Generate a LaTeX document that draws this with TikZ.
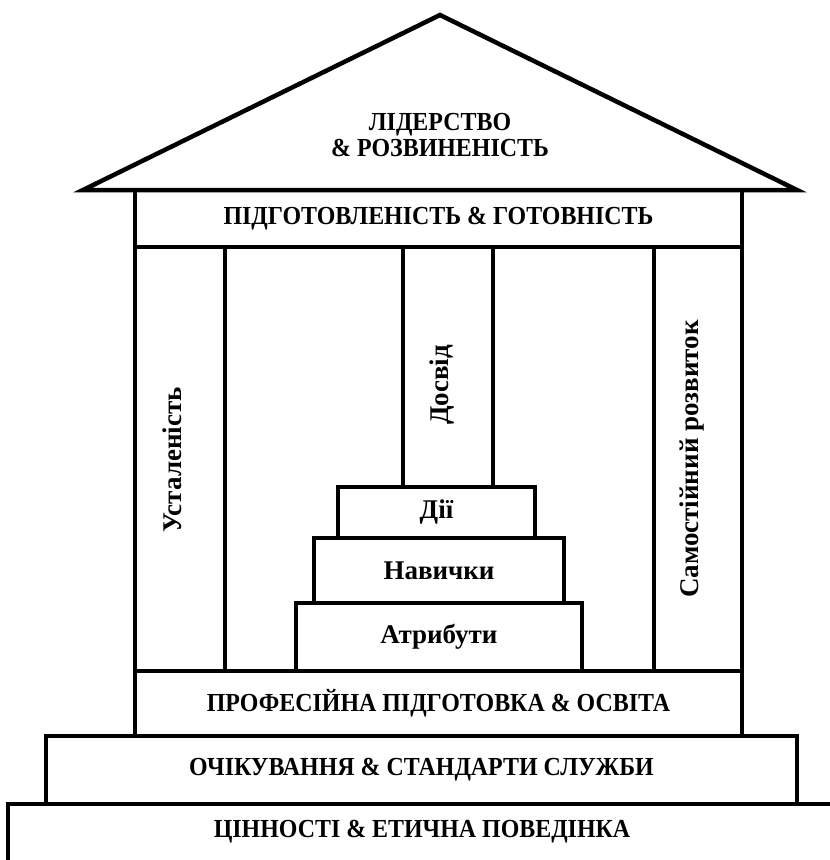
\documentclass[tikz,border=0pt]{standalone}
\usepackage{fontspec}
\setmainfont{Liberation Serif}
% slightly condensed face for the capital captions
\newfontfamily\capsfont[FakeStretch=0.92]{Liberation Serif}
\begin{document}
\begin{tikzpicture}[x=1pt,y=-1pt,
  wall/.style={draw=black,line width=4.5pt,line join=miter},
  block/.style={draw=black,line width=4.5pt,rectangle,inner sep=0pt,
    minimum width=#1},
  caption/.style={font=\capsfont\bfseries\fontsize{26}{26}\selectfont,inner sep=0pt,align=center},
  label/.style={font=\bfseries\fontsize{27}{27}\selectfont,inner sep=0pt},
  vlabel/.style={label,rotate=90}]
\clip (0,0) rectangle (830,860);

% roof
\draw[wall] (83,190) -- (440,15) -- (797,190) -- cycle;
\node[caption] (roofText) at (440,135) {ЛІДЕРСТВО\\\& РОЗВИНЕНІСТЬ};

% beam under the roof
\node[block=607pt,minimum height=57pt,caption] (ready) at (438.5,218.5)
  {ПІДГОТОВЛЕНІСТЬ \& ГОТОВНІСТЬ};

% pillars
\node[block=90pt,minimum height=424pt] (pillarL) at (180,459) {};
\node[block=90pt,minimum height=240pt] (pillarM) at (448,367) {};
\node[block=88pt,minimum height=424pt] (pillarR) at (698,459) {};
\node[vlabel] (lblL) at (172,460) {Усталеність};
\node[vlabel] (lblM) at (442,385) {Досвід};
\node[vlabel] (lblR) at (692,459) {Самостійний розвиток};

% stepped blocks
\node[block=197pt,minimum height=51pt,label] (stepA) at (436.5,512.5) {Дії};
\node[block=250pt,minimum height=65pt,label] (stepB) at (439,570.5) {Навички};
\node[block=286pt,minimum height=68pt,label] (stepC) at (439,637) {Атрибути};

% foundation layers
\node[block=607pt,minimum height=65pt,caption] (prof) at (438.5,703.5)
  {ПРОФЕСІЙНА ПІДГОТОВКА \& ОСВІТА};
\node[block=751pt,minimum height=68pt,caption] (expect) at (421.5,770)
  {ОЧІКУВАННЯ \& СТАНДАРТИ СЛУЖБИ};
\node[block=832pt,minimum height=70pt] (base) at (424,839) {};
\node[caption] (baseText) at (422,832) {ЦІННОСТІ \& ЕТИЧНА ПОВЕДІНКА};
\end{tikzpicture}
\end{document}
